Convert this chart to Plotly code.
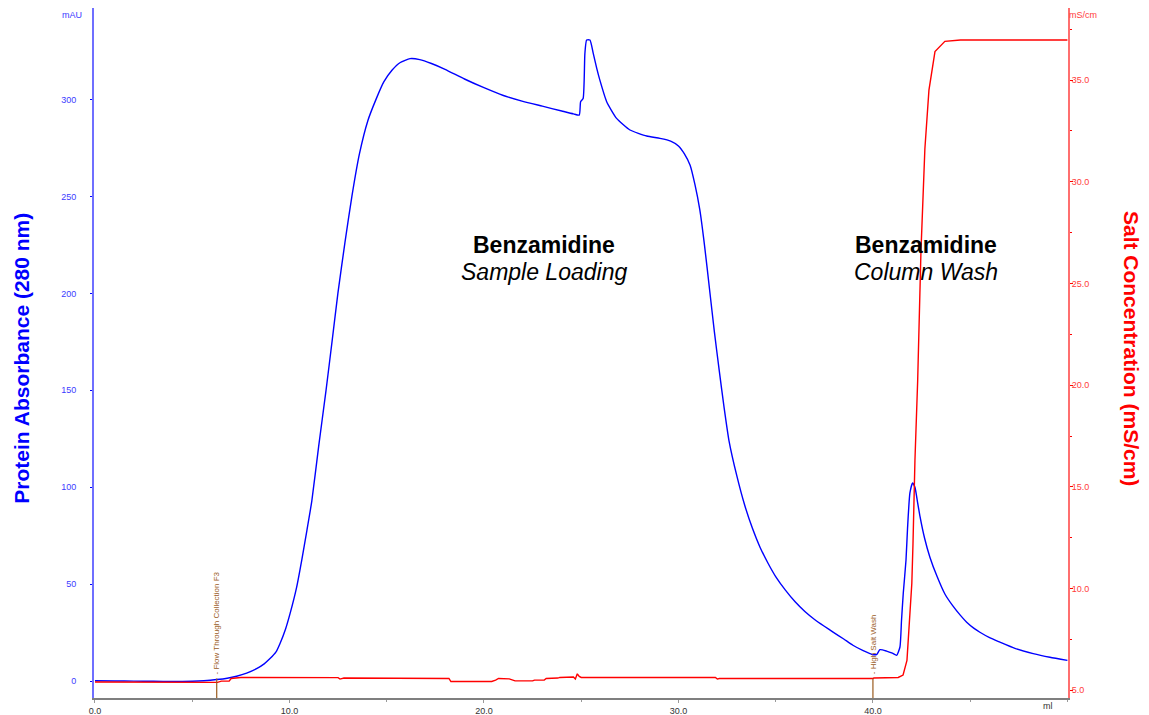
import plotly.graph_objects as go

# UV 280 nm absorbance trace (ml, mAU)
uv_ml = [0.0, 1.0, 2.0, 3.0, 4.0, 5.0, 5.6, 6.26, 6.8, 7.28, 7.8, 8.31, 8.7, 9.0, 9.3,
         9.51, 9.8, 10.03, 10.37, 10.63, 10.9, 11.15, 11.5, 11.88, 12.2, 12.49, 12.85,
         13.21, 13.6, 14.03, 14.45, 14.85, 15.27, 15.7, 16.2, 16.7, 17.3, 18.0, 19.0,
         20.0, 21.0, 22.0, 23.0, 24.0, 24.6, 24.9, 24.97, 25.1, 25.19, 25.28, 25.45,
         25.62, 25.8, 25.96, 26.31, 26.82, 27.51, 28.37, 29.05, 29.6, 30.0, 30.3, 30.6,
         30.85, 31.1, 31.35, 31.6, 31.85, 32.1, 32.35, 32.6, 33.0, 33.4, 33.8, 34.2,
         34.6, 35.0, 35.5, 36.0, 36.5, 37.0, 37.5, 37.95, 38.5, 38.97, 39.5, 39.98,
         40.2, 40.36, 40.7, 41.0, 41.22, 41.39, 41.47, 41.56, 41.7, 41.78, 41.9, 42.04,
         42.16, 42.3, 42.42, 42.65, 42.93, 43.3, 43.7, 44.1, 44.5, 44.82, 45.2, 45.5,
         46.0, 46.53, 47.3, 48.24, 49.1, 50.0]
uv_mau = [0.3, 0.2, 0.1, 0.0, -0.1, 0.0, 0.3, 0.9, 1.6, 2.6, 4.2, 6.5, 9.0, 11.7, 15.0,
          19.4, 27.0, 34.9, 48.6, 62.4, 78.0, 93.0, 121.0, 150.0, 176.0, 200.0, 226.0,
          250.0, 272.0, 289.0, 300.0, 309.0, 315.0, 319.0, 321.0, 320.5, 318.5, 315.5,
          310.5, 306.0, 302.0, 299.0, 296.5, 294.0, 292.5, 291.9, 298.8, 300.5, 323.7,
          330.6, 330.6, 323.7, 316.0, 309.9, 298.8, 290.2, 284.2, 281.1, 279.9, 278.5,
          276.0, 272.0, 266.0, 256.0, 243.0, 224.0, 202.0, 180.0, 160.0, 141.0, 124.0,
          106.0, 91.0, 79.0, 69.0, 61.0, 54.0, 47.0, 41.0, 36.0, 31.9, 28.4, 25.4, 21.8,
          18.6, 15.8, 13.8, 13.9, 16.3, 15.6, 14.5, 13.4, 17.7, 31.5, 45.4, 62.4, 79.0,
          97.0, 102.3, 100.0, 92.0, 85.0, 74.0, 64.0, 54.0, 45.0, 39.0, 34.0, 30.5, 27.3,
          25.3, 22.5, 20.2, 17.0, 14.3, 12.4, 10.8]

# Conductivity trace (ml, mS/cm)
cond_ml = [0.0, 4.5, 4.6, 6.3, 6.5, 6.9, 7.0, 7.5, 12.5, 12.6, 12.8, 18.2, 18.3, 20.4,
           20.6, 20.75, 21.3, 21.6, 22.5, 22.6, 23.1, 23.2, 23.8, 23.9, 24.6, 24.7, 24.8,
           24.9, 25.0, 31.9, 32.0, 32.1, 40.0, 40.05, 41.3, 41.55, 41.75, 41.9, 42.0,
           42.06, 42.1, 42.16, 42.3, 42.47, 42.67, 42.88, 43.19, 43.7, 44.5, 50.0]
cond_ms = [5.41, 5.41, 5.39, 5.39, 5.45, 5.45, 5.58, 5.63, 5.62, 5.55, 5.6, 5.58, 5.43,
           5.43, 5.5, 5.58, 5.56, 5.46, 5.46, 5.5, 5.5, 5.58, 5.6, 5.63, 5.65, 5.55, 5.81,
           5.68, 5.63, 5.63, 5.55, 5.58, 5.58, 5.6, 5.63, 5.75, 6.47, 8.93, 10.26, 12.2,
           14.7, 16.3, 20.2, 26.6, 31.6, 34.5, 36.4, 36.9, 36.97, 36.97]

# Fraction/event marks
event_ml = [6.26, 40.0]
event_text = ["- Flow Through Collection F3", "- High Salt Wash"]

x_ticks = [0, 10, 20, 30, 40]
x_ticktext = ["0.0", "10.0", "20.0", "30.0", "40.0"]
uv_ticks = [0, 50, 100, 150, 200, 250, 300]
cond_ticks = [5, 10, 15, 20, 25, 30, 35]
cond_ticktext = ["5.0", "10.0", "15.0", "20.0", "25.0", "30.0", "35.0"]

X_RANGE = [-0.05, 50.03]
UV_RANGE = [-8.6, 347.1]
COND_RANGE = [4.62, 38.54]

FONT = "Liberation Sans, Arial, sans-serif"
BLUE = "#0000ff"
RED = "#ff0000"
BROWN = "#9a5b1e"

fig = go.Figure()
fig.add_trace(go.Scatter(x=uv_ml, y=uv_mau, mode="lines",
                         line=dict(color=BLUE, width=1.4, shape="spline", smoothing=0.5),
                         yaxis="y", showlegend=False))
fig.add_trace(go.Scatter(x=cond_ml, y=cond_ms, mode="lines",
                         line=dict(color=RED, width=1.4), yaxis="y2", showlegend=False))

annotations = []
shapes = []
for ml, txt in zip(event_ml, event_text):
    shapes.append(dict(type="line", xref="x", yref="y", x0=ml, x1=ml,
                       y0=UV_RANGE[0], y1=1.5, line=dict(color=BROWN, width=1.2)))
    annotations.append(dict(x=ml, y=2.6, xref="x", yref="y", text=txt, showarrow=False,
                            textangle=-90, xanchor="center", yanchor="bottom",
                            font=dict(family=FONT, size=8, color=BROWN)))

# Phase labels
for x, head, sub in [(23.1, "Benzamidine", "Sample Loading"),
                     (42.72, "Benzamidine", "Column Wash")]:
    annotations.append(dict(x=x, y=225, xref="x", yref="y", text="<b>" + head + "</b>",
                            showarrow=False, xanchor="center", yanchor="middle",
                            font=dict(family=FONT, size=23, color="black")))
    annotations.append(dict(x=x, y=211, xref="x", yref="y", text="<i>" + sub + "</i>",
                            showarrow=False, xanchor="center", yanchor="middle",
                            font=dict(family=FONT, size=23, color="black")))

# Axis titles and units
paper_text = [
    (-0.0739, 0.4918, "<b>Protein Absorbance (280 nm)</b>", -90, 21, BLUE),
    (1.0654, 0.5063, "<b>Salt Concentration (mS/cm)</b>", 90, 21, RED),
    (-0.0226, 0.9898, "mAU", 0, 9, "#3b3bff"),
    (1.0154, 0.9898, "mS/cm", 0, 9, "#ff3b3b"),
    (0.9795, -0.012, "ml", 0, 9, "#333333"),
]
for x, y, txt, ang, size, col in paper_text:
    annotations.append(dict(x=x, y=y, xref="paper", yref="paper", text=txt, textangle=ang,
                            showarrow=False, xanchor="center", yanchor="middle",
                            font=dict(family=FONT, size=size, color=col)))

fig.update_layout(
    width=1149, height=715,
    margin=dict(l=94, r=81, t=8, b=17, pad=0),
    plot_bgcolor="white", paper_bgcolor="white",
    font=dict(family=FONT),
    xaxis=dict(range=X_RANGE, tickvals=x_ticks, ticktext=x_ticktext, automargin=False,
               showgrid=False, zeroline=False, showline=True, linecolor="#7f7f7f", linewidth=2,
               ticks="outside", ticklen=3, tickcolor="#9a9a9a",
               minor=dict(dtick=5, tick0=0, ticks="outside", ticklen=2, tickcolor="#9a9a9a"),
               tickfont=dict(family=FONT, size=9, color="#333333")),
    yaxis=dict(range=UV_RANGE, tickvals=uv_ticks, showgrid=False, zeroline=False,
               automargin=False,
               showline=True, linecolor="#6f6fff", linewidth=2,
               ticks="outside", ticklen=2, tickcolor=BLUE, ticklabelstandoff=12,
               tickfont=dict(family=FONT, size=9, color="#3b3bff")),
    yaxis2=dict(range=COND_RANGE, tickvals=cond_ticks, ticktext=cond_ticktext,
                overlaying="y", side="right", anchor="x", automargin=False,
                showgrid=False, zeroline=False, showline=True, linecolor="#ff6f6f", linewidth=2,
                ticks="outside", ticklen=3, tickcolor=RED, ticklabelstandoff=-3,
                minor=dict(dtick=2.5, tick0=0, ticks="outside", ticklen=2, tickcolor=RED),
                tickfont=dict(family=FONT, size=9, color="#ff3b3b")),
    annotations=annotations,
    shapes=shapes,
)

fig.write_html("out.html")
